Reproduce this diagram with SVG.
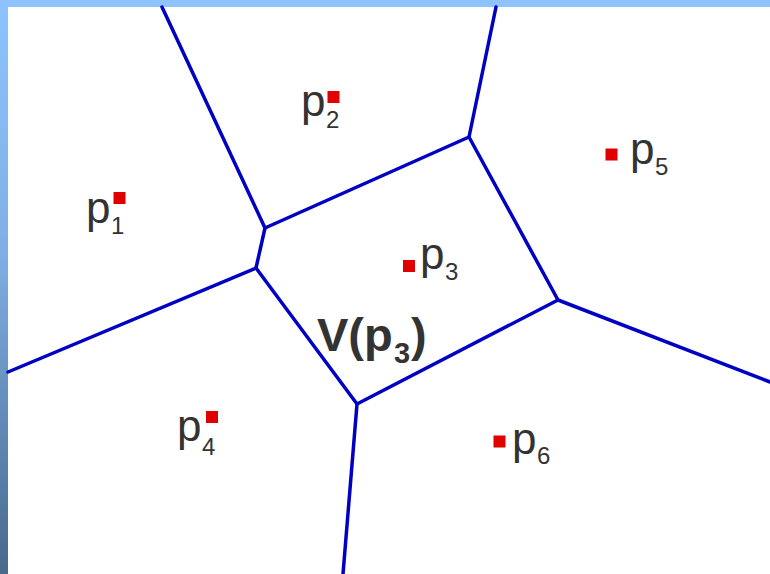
<svg xmlns="http://www.w3.org/2000/svg" width="770" height="574" viewBox="0 0 770 574">
<defs>
<linearGradient id="lg" x1="0" y1="0" x2="0" y2="1">
<stop offset="0" stop-color="#8EC3FF"/>
<stop offset="0.45" stop-color="#7FAEE4"/>
<stop offset="1" stop-color="#48688C"/>
</linearGradient>
<style>
.e{stroke:#0000C4;stroke-width:3.5;fill:none;stroke-linecap:round;stroke-linejoin:round}
.s{fill:#E00000}
.t{font-family:"Liberation Sans",Arial,sans-serif;fill:#333333;font-size:44px}
.sub{font-size:24px}
.v{font-family:"Liberation Sans",Arial,sans-serif;fill:#333333;font-size:47px;font-weight:bold}
</style>
</defs>
<rect x="0" y="0" width="770" height="574" fill="#FFFFFF"/>
<rect x="0" y="0" width="770" height="7" fill="#8EC3FF"/>
<rect x="0" y="0" width="8" height="574" fill="url(#lg)"/>
<g id="connectors">
<polyline class="e" points="162,7 265,228 469,137 496,7"/>
<polyline class="e" points="469,137 558,300 770,382"/>
<polyline class="e" points="558,300 357,404 256,268 265,228"/>
<polyline class="e" points="256,268 8,372"/>
<polyline class="e" points="357,404 343,574"/>
</g>
<g id="p1"><rect class="s" x="113.5" y="192" width="12" height="12"/><text class="t" x="86" y="223">p<tspan class="sub" x="111" y="234">1</tspan></text></g>
<g id="p2"><rect class="s" x="327.5" y="91" width="12" height="12"/><text class="t" x="301" y="116">p<tspan class="sub" x="326" y="128">2</tspan></text></g>
<g id="p3"><rect class="s" x="403" y="260" width="12" height="12"/><text class="t" x="420" y="269">p<tspan class="sub" x="445" y="280">3</tspan></text></g>
<g id="p4"><rect class="s" x="206" y="411" width="12" height="12"/><text class="t" x="177" y="441">p<tspan class="sub" x="202" y="455">4</tspan></text></g>
<g id="p5"><rect class="s" x="605.5" y="148.5" width="12" height="12"/><text class="t" x="630" y="164">p<tspan class="sub" x="655" y="175">5</tspan></text></g>
<g id="p6"><rect class="s" x="493.5" y="435.5" width="12" height="12"/><text class="t" x="512" y="454">p<tspan class="sub" x="537" y="464">6</tspan></text></g>
<g id="label"><text class="v" x="317" y="351">V(p<tspan font-size="29" x="394" y="363">3</tspan><tspan x="411" y="351">)</tspan></text></g>
</svg>
